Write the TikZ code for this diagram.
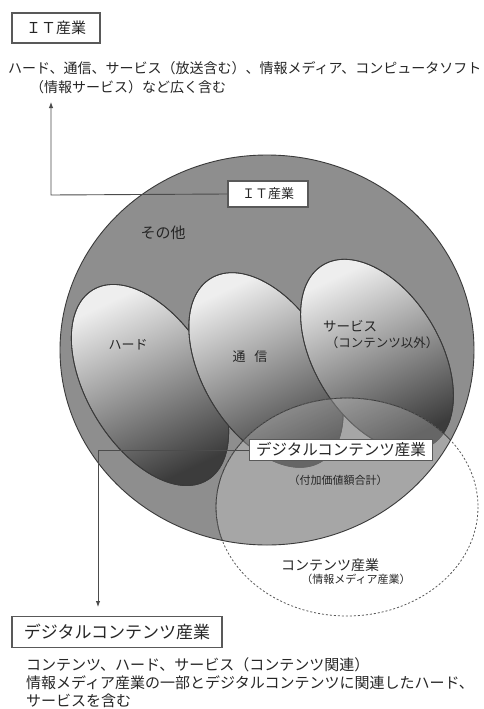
\documentclass[tikz,border=0pt]{standalone}
\usepackage{fontspec}
\setmainfont{Noto Sans CJK JP}
\usetikzlibrary{arrows.meta}
\definecolor{txt}{HTML}{262626}
\definecolor{bigfill}{HTML}{8E8E8E}
\definecolor{edge}{HTML}{3A3A3A}
\definecolor{lite}{HTML}{EEEEEE}
\definecolor{dark}{HTML}{3C3C3C}
\tikzset{
  fs/.style={font=\fontsize{#1}{#1}\selectfont},
  plain/.style={inner sep=0pt, text=txt},
  labelbox/.style={draw=gray!70!black, line width=1.1pt, fill=white, inner sep=0pt, text=txt},
  conn/.style={draw=gray!60!black, line width=0.9pt},
  tip/.style={-{Latex[length=6pt,width=4.5pt]}},
  egg/.style={draw=edge, line width=0.8pt, top color=lite, bottom color=dark, shading angle=25},
}
\begin{document}
\begin{tikzpicture}[x=1pt,y=-1pt]
\useasboundingbox (0,0) rectangle (483,709);
\fill[white] (0,0) rectangle (483,709);

% big IT circle
\fill[bigfill] (267,350) ellipse (207 and 195);

% three tilted ellipses
\begin{scope}[shift={(150,385)}, rotate=31]
  \shade[egg] (0,0) ellipse (63 and 111);
  \draw[edge, line width=0.8pt] (0,0) ellipse (63 and 111);
\end{scope}
\begin{scope}[shift={(266,370)}, rotate=31]
  \shade[egg] (0,0) ellipse (63 and 107);
  \draw[edge, line width=0.8pt] (0,0) ellipse (63 and 107);
\end{scope}
\begin{scope}[shift={(377,355)}, rotate=31]
  \shade[egg] (0,0) ellipse (63 and 105);
  \draw[edge, line width=0.8pt] (0,0) ellipse (63 and 105);
\end{scope}

% digital contents region (part inside the big circle)
\begin{scope}
  \clip (267,350) ellipse (207 and 195);
  \fill[white, opacity=0.22] (347,507) ellipse (131 and 109);
  \draw[edge, line width=0.8pt] (347,507) ellipse (131 and 109);
\end{scope}
% contents industry (dashed ellipse)
\draw[gray!70!black, line width=0.8pt, dashed, dash pattern=on 2pt off 2pt] (347,507) ellipse (131 and 109);
\draw[edge, line width=0.9pt] (267,350) ellipse (207 and 195);

% labels inside
\node[plain, fs=15] (other) at (163,233) {その他};
\node[plain, fs=13] (hard) at (128,345) {ハード};
\node[plain, fs=13] (tsu) at (250,357) {通\hspace{9pt}信};
\node[plain, fs=13.5] (srv) at (350,326) {サービス};
\node[plain, fs=12.5] (srv2) at (382,343) {（コンテンツ以外）};
\node[plain, fs=11] (sum) at (338,480) {（付加価値額合計）};
\node[plain, fs=14] (ci) at (330,565) {コンテンツ産業};
\node[plain, fs=11] (ci2) at (356,579) {（情報メディア産業）};

% IT industry boxes
\node[labelbox, fs=13, minimum width=80pt, minimum height=26pt] (itin) at (268,194) {ＩＴ産業};
\node[labelbox, fs=15, minimum width=88pt, minimum height=30pt] (ittop) at (56,28) {ＩＴ産業};
\node[plain, fs=14, anchor=west] (ittxt1) at (8,68) {ハード、通信、サービス（放送含む）、情報メディア、コンピュータソフト};
\node[plain, fs=14, anchor=west] (ittxt2) at (30,87) {（情報サービス）など広く含む};
\coordinate (itcorner) at (51,195);
\coordinate (ittip) at (51,102);
\draw[conn, tip] (itin.west) -- (itcorner) -- (ittip);

% digital contents boxes
\node[labelbox, fs=15.5, minimum width=183pt, minimum height=21pt] (dcin) at (341,450) {デジタルコンテンツ産業};
\node[labelbox, fs=17, minimum width=210pt, minimum height=31pt] (dcbot) at (117,632) {デジタルコンテンツ産業};
\coordinate (dccorner) at (98,450);
\coordinate (dctip) at (98,607);
\draw[conn, tip] (dcin.west) -- (dccorner) -- (dctip);

\node[plain, fs=15, anchor=west] (dctxt1) at (26,665) {コンテンツ、ハード、サービス（コンテンツ関連）};
\node[plain, fs=15, anchor=west] (dctxt2) at (26,683) {情報メディア産業の一部とデジタルコンテンツに関連したハード、};
\node[plain, fs=15, anchor=west] (dctxt3) at (26,701) {サービスを含む};
\end{tikzpicture}
\end{document}
